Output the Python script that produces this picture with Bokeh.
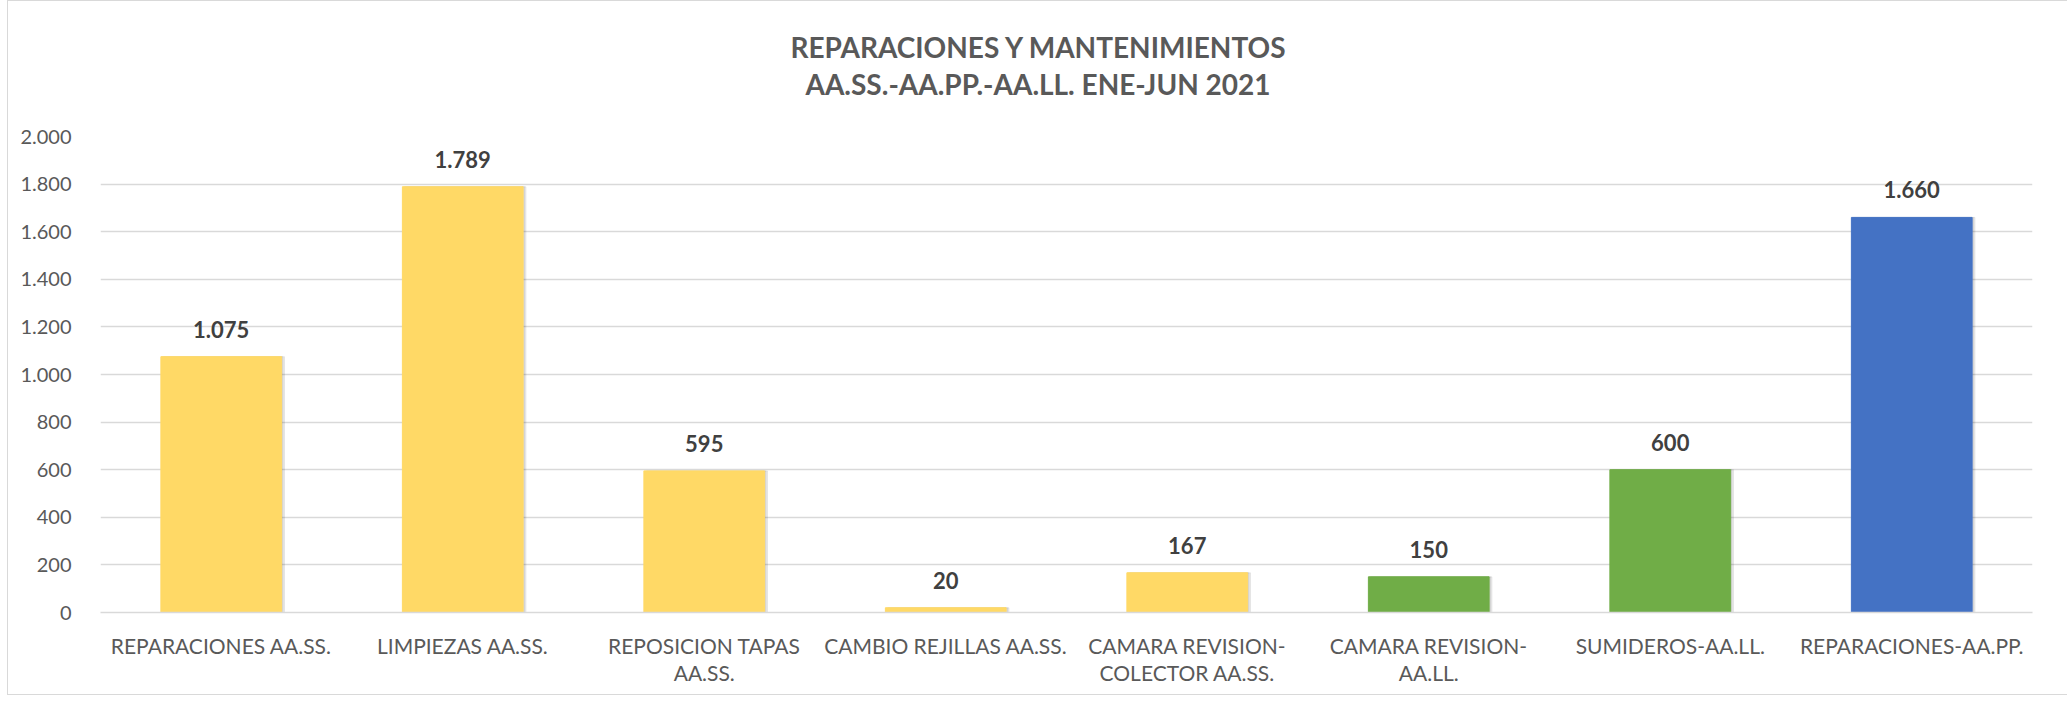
from bokeh.plotting import figure
from bokeh.models import (ColumnDataSource, LabelSet, FixedTicker, Range1d,
                          LinearAxis, Div)
from bokeh.layouts import column
from bokeh.core.properties import value
from bokeh.transform import dodge
from bokeh.embed import file_html
from bokeh.resources import INLINE

# ---------------- data ----------------
categories = [
    "REPARACIONES AA.SS.",
    "LIMPIEZAS AA.SS.",
    "REPOSICION TAPAS AA.SS.",
    "CAMBIO REJILLAS AA.SS.",
    "CAMARA REVISION-COLECTOR AA.SS.",
    "CAMARA REVISION-AA.LL.",
    "SUMIDEROS-AA.LL.",
    "REPARACIONES-AA.PP.",
]
label_line1 = [
    "REPARACIONES AA.SS.",
    "LIMPIEZAS AA.SS.",
    "REPOSICION TAPAS",
    "CAMBIO REJILLAS AA.SS.",
    "CAMARA REVISION-",
    "CAMARA REVISION-",
    "SUMIDEROS-AA.LL.",
    "REPARACIONES-AA.PP.",
]
label_line2 = ["", "", "AA.SS.", "", "COLECTOR AA.SS.", "AA.LL.", "", ""]
values = [1075, 1789, 595, 20, 167, 150, 600, 1660]
bar_colors = ["#FFD966", "#FFD966", "#FFD966", "#FFD966", "#FFD966",
              "#70AD47", "#70AD47", "#4472C4"]
y_ticks = [0, 200, 400, 600, 800, 1000, 1200, 1400, 1600, 1800, 2000]
title_lines = ["REPARACIONES Y MANTENIMIENTOS", "AA.SS.-AA.PP.-AA.LL. ENE-JUN 2021"]


def fmt(v):
    return f"{v:,}".replace(",", ".")


# ---------------- layout ----------------
FONT = "Lato"
FRAME_W, FRAME_H = 1932, 476
B_LEFT, B_RIGHT, B_TOP, B_BOTTOM = 92, 26, 17, 82
W = B_LEFT + FRAME_W + B_RIGHT
DIV_H = 108
Y_MAX = 2000

# category slots 1..n on a numeric axis
positions = list(range(1, len(categories) + 1))

src = ColumnDataSource(dict(
    x=positions,
    cat=categories,
    val=values,
    color=bar_colors,
    txt=[fmt(v) for v in values],
))

p = figure(
    frame_width=FRAME_W, frame_height=FRAME_H,
    x_range=Range1d(0.5, len(categories) + 0.5),
    y_range=Range1d(0, Y_MAX),
    output_backend="svg", toolbar_location=None, tools="",
    min_border_left=B_LEFT, min_border_right=B_RIGHT,
    min_border_top=B_TOP, min_border_bottom=B_BOTTOM,
)
p.outline_line_color = None
p.background_fill_color = "white"
p.border_fill_color = "white"

# soft drop shadow, then the bars
p.vbar(x=dodge("x", 0.012), top="val", width=0.5, color="#000000",
       alpha=0.07, source=src)
p.vbar(x=dodge("x", 0.006), top="val", width=0.5, color="#000000",
       alpha=0.07, source=src)
p.vbar(x="x", top="val", width=0.5, color="color", source=src)

labels = LabelSet(x="x", y="val", text="txt", source=src,
                  text_align="center", text_baseline="alphabetic", y_offset=19,
                  text_font=value(FONT), text_font_style="bold",
                  text_font_size="22px", text_color="#404040")
p.add_layout(labels)

# grid
p.xgrid.grid_line_color = None
p.ygrid.grid_line_color = "#D9D9D9"
p.ygrid.grid_line_width = 1.5
p.yaxis.ticker = FixedTicker(ticks=y_ticks)

# y axis
p.yaxis.axis_line_color = None
p.yaxis.major_tick_line_color = None
p.yaxis.minor_tick_line_color = None
p.yaxis.major_label_overrides = {t: fmt(t) for t in y_ticks}
p.yaxis.major_label_text_font = FONT
p.yaxis.major_label_text_font_size = "20px"
p.yaxis.major_label_text_color = "#595959"
p.yaxis.major_label_standoff = 23

# x axis: first line of the category labels
ax1 = p.below[0]
ax1.ticker = FixedTicker(ticks=positions, minor_ticks=[])
ax1.axis_line_color = "#D9D9D9"
ax1.axis_line_width = 1.5
ax1.major_tick_line_color = None
ax1.minor_tick_line_color = None
ax1.major_label_overrides = dict(zip(positions, label_line1))
ax1.major_label_text_font = FONT
ax1.major_label_text_font_size = "21px"
ax1.major_label_text_color = "#595959"
ax1.major_label_standoff = 14

# x axis: second line of the wrapped labels
ax2 = LinearAxis(
    ticker=FixedTicker(ticks=positions, minor_ticks=[]),
    axis_line_color=None, major_tick_line_color=None, minor_tick_line_color=None,
    major_label_overrides=dict(zip(positions, label_line2)),
    major_label_text_font=FONT, major_label_text_font_size="21px",
    major_label_text_color="#595959", major_label_standoff=-7,
)
p.add_layout(ax2, "below")

# title (centred over the whole chart)
title_html = (
    "<div style=\"width:%dpx; text-align:center; font-family:'%s'; font-weight:bold; "
    "font-size:28px; line-height:37px; color:#595959; padding-top:23px;\">%s</div>"
    % (W, FONT, "<br>".join(title_lines))
)
title_div = Div(text=title_html, width=W, height=DIV_H)

layout = column(title_div, p, spacing=0,
                styles={"border": "1px solid #d9d9d9", "margin-left": "7px",
                        "background-color": "white"})

open("out.html", "w").write(file_html(layout, INLINE))
